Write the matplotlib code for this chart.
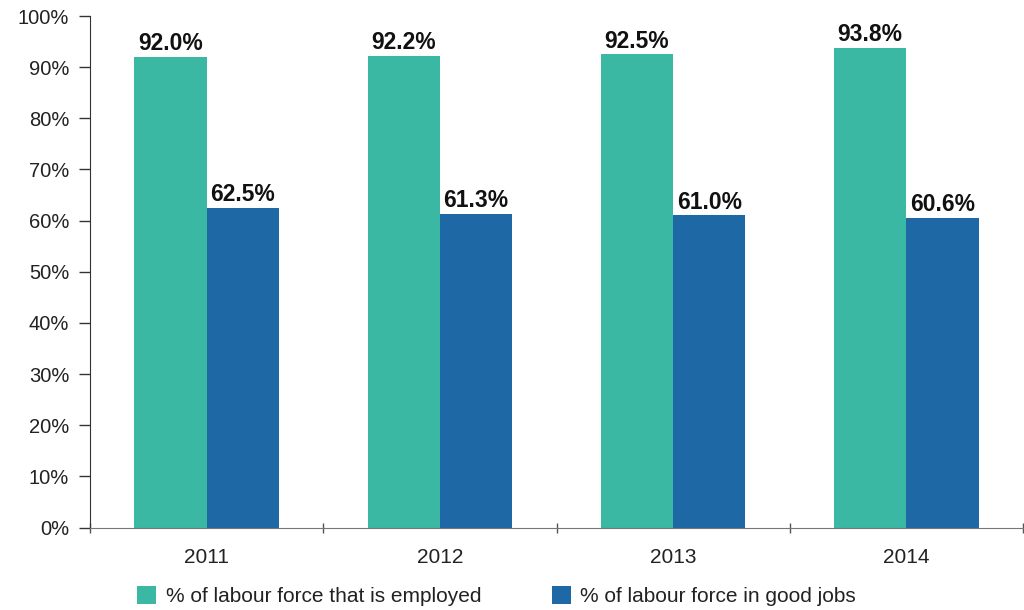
import matplotlib
matplotlib.use("Agg")
import matplotlib.pyplot as plt
import numpy as np
from matplotlib.patches import Patch

years = ["2011", "2012", "2013", "2014"]
employed = [92.0, 92.2, 92.5, 93.8]
good_jobs = [62.5, 61.3, 61.0, 60.6]
series_names = ["% of labour force that is employed", "% of labour force in good jobs"]
colors = ["#3BB8A3", "#1E69A5"]

plt.rcParams["font.family"] = ["Liberation Sans", "DejaVu Sans"]

fig = plt.figure(figsize=(10.24, 6.10), dpi=100)
ax = fig.add_axes([90 / 1024, 1 - 527.5 / 610, 933 / 1024, (527.5 - 16) / 610])

x = np.arange(len(years))
w = 0.31
b1 = ax.bar(x - w / 2, employed, width=w, color=colors[0], zorder=2)
b2 = ax.bar(x + w / 2, good_jobs, width=w, color=colors[1], zorder=2)

for bars, vals in ((b1, employed), (b2, good_jobs)):
    for rect, v in zip(bars, vals):
        ax.text(rect.get_x() + rect.get_width() / 2, v + 0.3, f"{v:.1f}%",
                ha="center", va="bottom", fontsize=16.5, fontweight="bold", color="#111111")

ax.set_xlim(-0.5, len(years) - 0.5)
ax.set_ylim(0, 100)
ax.set_yticks(np.arange(0, 101, 10))
ax.set_yticklabels([f"{t}%" for t in range(0, 101, 10)], fontsize=14.5, color="#222222")
ax.set_xticks(x)
ax.set_xticklabels(years, fontsize=15, color="#222222")
ax.tick_params(axis="x", length=0, pad=15)
ax.set_xticks(np.arange(-0.5, len(years), 1.0), minor=True)
ax.tick_params(axis="x", which="minor", length=7, width=1, color="#555555", direction="inout")
ax.tick_params(axis="y", length=8, width=1, color="#333333", pad=7)

for side in ("top", "right"):
    ax.spines[side].set_visible(False)
ax.spines["left"].set_color("#333333")
ax.spines["bottom"].set_color("#777777")

handles = [Patch(facecolor=c, edgecolor="none") for c in colors]
leg = fig.legend(handles, series_names, loc="center", bbox_to_anchor=(0.485, 1 - 596 / 610),
                 ncol=2, frameon=False, fontsize=15, handlelength=0.92, handleheight=0.92,
                 columnspacing=3.4, handletextpad=0.45)
for t in leg.get_texts():
    t.set_color("#222222")

fig.savefig("out.png", dpi=100)
